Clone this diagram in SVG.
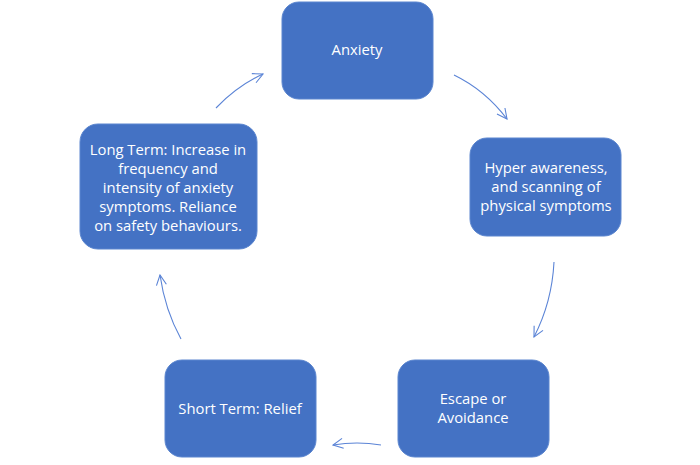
<svg xmlns="http://www.w3.org/2000/svg" width="700" height="465" viewBox="0 0 700 465">
<style>
.box{fill:#4472C4;stroke:#5a85cf;stroke-width:1}
.t{font-family:"Open Sans","Liberation Sans",Arial,sans-serif;font-size:14.8px;fill:#ffffff;text-anchor:middle}
.c{fill:none;stroke:#5b84d6;stroke-width:1.1}
</style>
<defs>
<marker id="ah" viewBox="0 0 12 12" refX="11" refY="6" markerWidth="12" markerHeight="12" markerUnits="userSpaceOnUse" orient="auto">
<path d="M1,1 L11,6 L1,11" fill="none" stroke="#5b84d6" stroke-width="1.1"/>
</marker>
</defs>
<rect width="700" height="465" fill="#ffffff"/>
<g id="connectors">
<path class="c" d="M454,75 Q485,90 507,119" marker-end="url(#ah)"/>
<path class="c" d="M554,262 Q552,302 534,337" marker-end="url(#ah)"/>
<path class="c" d="M381,445 Q357,441 333,445" marker-end="url(#ah)"/>
<path class="c" d="M181,339 Q165,310 160,275" marker-end="url(#ah)"/>
<path class="c" d="M216,108 Q237,86 263,74" marker-end="url(#ah)"/>
</g>
<g id="anxiety">
<rect class="box" x="282" y="2" width="151" height="97" rx="17"/>
<text class="t" x="357" y="55">Anxiety</text>
</g>
<g id="hyper">
<rect class="box" x="470" y="138" width="151" height="98" rx="17"/>
<text class="t" x="546" y="173">Hyper awareness,</text>
<text class="t" x="546" y="192">and scanning of</text>
<text class="t" x="546" y="211">physical symptoms</text>
</g>
<g id="escape">
<rect class="box" x="398" y="360" width="151" height="97" rx="17"/>
<text class="t" x="473" y="404">Escape or</text>
<text class="t" x="473" y="423">Avoidance</text>
</g>
<g id="shortterm">
<rect class="box" x="165" y="360" width="151" height="97" rx="17"/>
<text class="t" x="240" y="414">Short Term: Relief</text>
</g>
<g id="longterm">
<rect class="box" x="80" y="124" width="177" height="125" rx="18"/>
<text class="t" x="168" y="155">Long Term: Increase in</text>
<text class="t" x="168" y="174">frequency and</text>
<text class="t" x="168" y="193">intensity of anxiety</text>
<text class="t" x="168" y="212">symptoms. Reliance</text>
<text class="t" x="168" y="231">on safety behaviours.</text>
</g>
</svg>
